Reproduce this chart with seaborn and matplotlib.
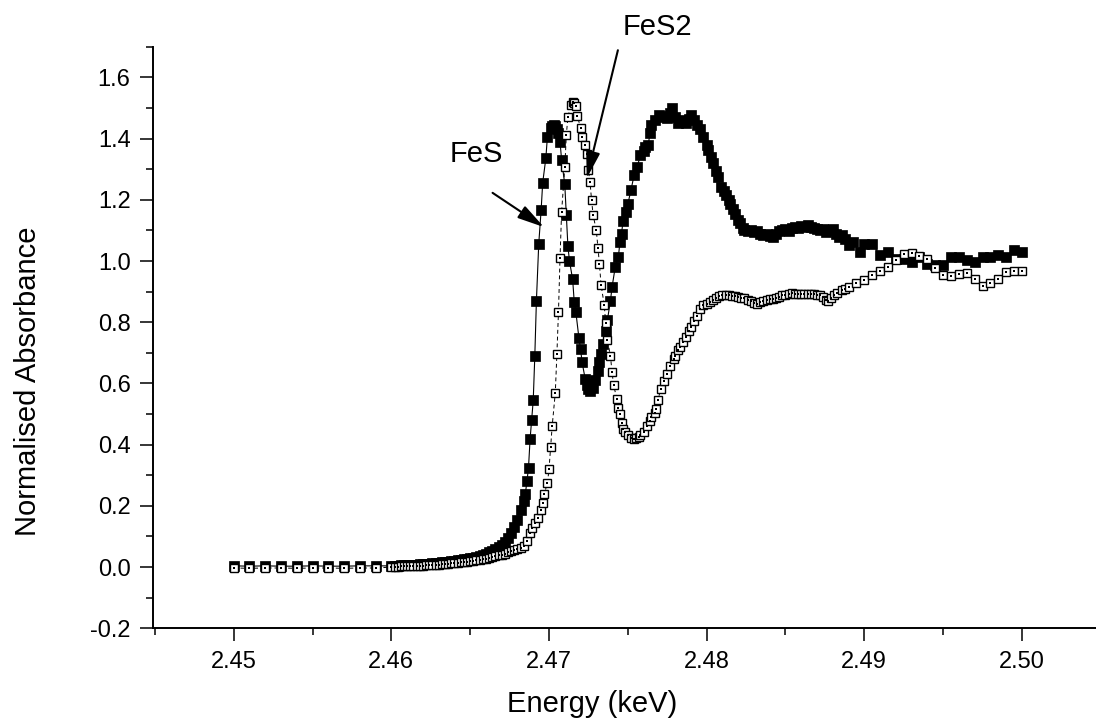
import matplotlib
matplotlib.use('Agg')
import matplotlib.pyplot as plt
from matplotlib.ticker import MultipleLocator, FormatStrFormatter
import pandas as pd
import seaborn as sns

# FeS (filled squares, solid line)
fes_energy = [
    2.450, 2.451, 2.452, 2.453, 2.454, 2.455, 2.456, 2.457, 2.458, 2.459,
    2.4600, 2.4602, 2.4604, 2.4606, 2.4608, 2.4610, 2.4612, 2.4614, 2.4616, 2.4618,
    2.4620, 2.4622, 2.4624, 2.4626, 2.4628, 2.4630, 2.4632, 2.4634, 2.4636, 2.4638,
    2.4640, 2.4642, 2.4644, 2.4646, 2.4648, 2.4650, 2.4652, 2.4654, 2.4656, 2.4658,
    2.4660, 2.4662, 2.4664, 2.4666, 2.4668, 2.4670, 2.4672, 2.4674, 2.4676, 2.4678,
    2.4680, 2.4682, 2.4684,
    2.4685, 2.4686, 2.4687, 2.4688, 2.4689, 2.4690, 2.4691, 2.4692, 2.46935, 2.4695,
    2.4696, 2.4698, 2.4699, 2.4701, 2.4702, 2.4703, 2.4704, 2.4705, 2.4706, 2.4707,
    2.4708, 2.4710, 2.4711, 2.4712, 2.4713, 2.4715, 2.4716, 2.4717, 2.4719, 2.4720,
    2.4721, 2.4723, 2.4724, 2.4725, 2.4726, 2.4727, 2.4728, 2.4729, 2.4731, 2.4732,
    2.4733, 2.4734, 2.4736, 2.4737, 2.4739, 2.4740, 2.4742, 2.4744, 2.4745, 2.4746,
    2.4747, 2.4749, 2.4750, 2.4752, 2.4754, 2.4756, 2.4758, 2.4760, 2.4761, 2.4763,
    2.4764, 2.4765, 2.4767, 2.4770, 2.4772, 2.4774, 2.4775, 2.4777, 2.4778, 2.4780,
    2.4782, 2.4784, 2.4787, 2.4789, 2.4790, 2.4792, 2.4794, 2.4796, 2.4798, 2.4800,
    2.4801, 2.4803, 2.4804, 2.4806, 2.4807, 2.4809, 2.4811, 2.4812, 2.4814, 2.4815,
    2.4817, 2.4818, 2.4820, 2.4821, 2.4823, 2.4824, 2.4826, 2.4828, 2.4830, 2.4832,
    2.4834, 2.4836, 2.4838, 2.4840, 2.4842, 2.4844, 2.4846, 2.4848, 2.4850, 2.4852,
    2.4854, 2.4856, 2.4858, 2.4860, 2.4862, 2.4864, 2.4866, 2.4868, 2.4870, 2.4872,
    2.4874, 2.4876, 2.4878, 2.4880, 2.4882, 2.4884, 2.4886, 2.4888, 2.4890, 2.4893,
    2.4897, 2.4900, 2.4905, 2.4910, 2.4915, 2.4920, 2.4925, 2.4930, 2.4935, 2.4940,
    2.4945, 2.4950, 2.4955, 2.4960, 2.4965, 2.4970, 2.4975, 2.4980, 2.4985, 2.4990,
    2.4995, 2.5000,
]
fes_abs = [
    0.004, 0.003, 0.004, 0.003, 0.003, 0.004, 0.003, 0.003, 0.004, 0.004,
    0.004, 0.005, 0.005, 0.006, 0.006, 0.007, 0.007, 0.008, 0.008, 0.009,
    0.010, 0.010, 0.011, 0.012, 0.013, 0.014, 0.015, 0.016, 0.017, 0.019,
    0.020, 0.022, 0.023, 0.025, 0.027, 0.029, 0.031, 0.034, 0.037, 0.040,
    0.044, 0.048, 0.053, 0.058, 0.065, 0.073, 0.083, 0.096, 0.112, 0.132,
    0.155, 0.185, 0.215,
    0.240, 0.280, 0.325, 0.418, 0.480, 0.545, 0.690, 0.868, 1.057, 1.166,
    1.256, 1.336, 1.407, 1.435, 1.440, 1.445, 1.442, 1.430, 1.418, 1.390,
    1.330, 1.251, 1.152, 1.048, 1.000, 0.940, 0.867, 0.835, 0.748, 0.713,
    0.669, 0.614, 0.595, 0.582, 0.575, 0.598, 0.585, 0.610, 0.642, 0.670,
    0.696, 0.729, 0.773, 0.806, 0.871, 0.915, 0.980, 1.013, 1.062, 1.090,
    1.131, 1.160, 1.186, 1.232, 1.281, 1.308, 1.347, 1.360, 1.374, 1.380,
    1.418, 1.445, 1.460, 1.478, 1.470, 1.475, 1.467, 1.485, 1.500, 1.470,
    1.450, 1.460, 1.450, 1.465, 1.478, 1.460, 1.445, 1.430, 1.407, 1.380,
    1.363, 1.340, 1.319, 1.295, 1.275, 1.243, 1.228, 1.215, 1.200, 1.188,
    1.170, 1.155, 1.135, 1.123, 1.108, 1.100, 1.098, 1.102, 1.095, 1.097,
    1.090, 1.085, 1.090, 1.083, 1.079, 1.090, 1.097, 1.100, 1.105, 1.097,
    1.108, 1.112, 1.108, 1.115, 1.112, 1.117, 1.110, 1.108, 1.106, 1.100,
    1.104, 1.095, 1.100, 1.106, 1.090, 1.079, 1.085, 1.073, 1.052, 1.062,
    1.030, 1.057, 1.057, 1.019, 1.030, 1.008, 1.008, 0.997, 1.013, 0.991,
    0.986, 0.986, 1.013, 1.013, 1.002, 0.997, 1.013, 1.013, 1.019, 1.013,
    1.035, 1.030,
]

# FeS2 (open squares, dashed line)
fes2_energy = [
    2.450, 2.451, 2.452, 2.453, 2.454, 2.455, 2.456, 2.457, 2.458, 2.459,
    2.4600, 2.4602, 2.4604, 2.4606, 2.4608, 2.4610, 2.4612, 2.4614, 2.4616, 2.4618,
    2.4620, 2.4622, 2.4624, 2.4626, 2.4628, 2.4630, 2.4632, 2.4634, 2.4636, 2.4638,
    2.4640, 2.4642, 2.4644, 2.4646, 2.4648, 2.4650, 2.4652, 2.4654, 2.4656, 2.4658,
    2.4660, 2.4662, 2.4664, 2.4666, 2.4668, 2.4670, 2.4672, 2.4674, 2.4676, 2.4678,
    2.4680, 2.4682, 2.4684,
    2.4686, 2.4688, 2.4689, 2.4691, 2.4693, 2.4695, 2.4696, 2.4697, 2.4699, 2.4700,
    2.4701, 2.4702, 2.4704, 2.4705, 2.4706, 2.4707, 2.4708, 2.4710, 2.4711, 2.4712,
    2.4714, 2.4715, 2.4716, 2.4717, 2.4718, 2.4720, 2.4721, 2.4723, 2.4724, 2.4725,
    2.4726, 2.4727, 2.4728, 2.4730, 2.4731, 2.4732, 2.4733, 2.4735, 2.4736, 2.4737,
    2.4739, 2.4740, 2.4741, 2.4743, 2.4744, 2.4745, 2.4746, 2.4747, 2.4748, 2.4750,
    2.4752, 2.4754, 2.4755, 2.4757, 2.4758, 2.4760, 2.4762, 2.4764, 2.4765, 2.4767,
    2.4768, 2.4769, 2.4771, 2.4773, 2.4775, 2.4777, 2.4779, 2.4780, 2.4782, 2.4783,
    2.4785, 2.4787, 2.4789, 2.4790, 2.4792, 2.4794, 2.4796, 2.4798, 2.4800, 2.4802,
    2.4804, 2.4806, 2.4808, 2.4810, 2.4812, 2.4814, 2.4816, 2.4818, 2.4820, 2.4822,
    2.4824, 2.4826, 2.4828, 2.4830, 2.4832, 2.4834, 2.4836, 2.4838, 2.4840, 2.4842,
    2.4844, 2.4846, 2.4848, 2.4850, 2.4852, 2.4854, 2.4856, 2.4858, 2.4860, 2.4862,
    2.4864, 2.4866, 2.4868, 2.4870, 2.4872, 2.4874, 2.4876, 2.4877, 2.4879, 2.4881,
    2.4883, 2.4886, 2.4888, 2.4890, 2.4895, 2.4900, 2.4905, 2.4910, 2.4915, 2.4920,
    2.4925, 2.4930, 2.4935, 2.4940, 2.4945, 2.4950, 2.4955, 2.4960, 2.4965, 2.4970,
    2.4975, 2.4980, 2.4985, 2.4990, 2.4995, 2.5000,
]
fes2_abs = [
    -0.003, -0.004, -0.003, -0.003, -0.004, -0.003, -0.003, -0.004, -0.003, -0.003,
    0.000, 0.001, 0.001, 0.002, 0.002, 0.003, 0.003, 0.004, 0.004, 0.005,
    0.005, 0.006, 0.006, 0.007, 0.008, 0.008, 0.009, 0.010, 0.011, 0.012,
    0.013, 0.014, 0.015, 0.016, 0.017, 0.019, 0.020, 0.022, 0.024, 0.026,
    0.028, 0.030, 0.032, 0.035, 0.038, 0.041, 0.044, 0.048, 0.052, 0.056,
    0.059, 0.062, 0.070,
    0.085, 0.110, 0.128, 0.145, 0.161, 0.188, 0.210, 0.239, 0.275, 0.319,
    0.392, 0.460, 0.570, 0.696, 0.832, 1.011, 1.161, 1.306, 1.412, 1.472,
    1.510, 1.521, 1.515, 1.507, 1.474, 1.436, 1.407, 1.379, 1.350, 1.297,
    1.260, 1.199, 1.150, 1.101, 1.044, 0.991, 0.923, 0.858, 0.797, 0.743,
    0.689, 0.636, 0.595, 0.550, 0.520, 0.500, 0.472, 0.450, 0.440, 0.431,
    0.421, 0.420, 0.421, 0.425, 0.431, 0.443, 0.461, 0.478, 0.489, 0.505,
    0.516, 0.546, 0.582, 0.609, 0.632, 0.658, 0.680, 0.691, 0.708, 0.718,
    0.735, 0.751, 0.770, 0.784, 0.805, 0.822, 0.845, 0.855, 0.860, 0.866,
    0.874, 0.880, 0.886, 0.888, 0.890, 0.888, 0.887, 0.886, 0.884, 0.880,
    0.878, 0.874, 0.868, 0.862, 0.860, 0.866, 0.871, 0.872, 0.875, 0.877,
    0.880, 0.884, 0.888, 0.890, 0.892, 0.895, 0.894, 0.893, 0.893, 0.893,
    0.892, 0.891, 0.891, 0.890, 0.888, 0.882, 0.872, 0.871, 0.878, 0.888,
    0.896, 0.904, 0.910, 0.915, 0.928, 0.939, 0.953, 0.969, 0.980, 1.005,
    1.022, 1.026, 1.016, 1.008, 0.978, 0.953, 0.951, 0.959, 0.962, 0.940,
    0.920, 0.928, 0.942, 0.964, 0.966, 0.967,
]

x_ticks = [2.45, 2.46, 2.47, 2.48, 2.49, 2.50]
y_ticks = [-0.2, 0.0, 0.2, 0.4, 0.6, 0.8, 1.0, 1.2, 1.4, 1.6]

sns.set_style('ticks')
plt.rcParams['font.family'] = ['Liberation Sans', 'DejaVu Sans']
plt.rcParams['axes.unicode_minus'] = False
plt.rcParams['text.color'] = 'black'
plt.rcParams['axes.labelcolor'] = 'black'

fes = pd.DataFrame({'energy': fes_energy, 'absorbance': fes_abs})
fes2 = pd.DataFrame({'energy': fes2_energy, 'absorbance': fes2_abs})

fig = plt.figure(figsize=(10.96, 7.22), dpi=100)
ax = fig.add_axes([0.1399, 0.1298, 0.8601, 0.8055])

sns.lineplot(data=fes, x='energy', y='absorbance', ax=ax, sort=False,
             estimator=None, color='black', linewidth=0.8, marker='s',
             markersize=6.8, markerfacecolor='black', markeredgecolor='black',
             markeredgewidth=0.5, zorder=2)
sns.lineplot(data=fes2, x='energy', y='absorbance', ax=ax, sort=False,
             estimator=None, color='black', linewidth=0.7, linestyle=(0, (4, 3)),
             marker='s', markersize=6.0, markerfacecolor='white',
             markeredgecolor='black', markeredgewidth=1.0, zorder=3)
# centre dots of the open squares
sns.scatterplot(data=fes2, x='energy', y='absorbance', ax=ax, marker='s',
                s=1.8, color='black', linewidth=0, zorder=4)

ax.set_xlim(2.4449, 2.5047)
ax.set_ylim(-0.2, 1.7005)
ax.set_xticks(x_ticks)
ax.set_yticks(y_ticks)
ax.xaxis.set_minor_locator(MultipleLocator(0.005))
ax.yaxis.set_minor_locator(MultipleLocator(0.1))
ax.xaxis.set_major_formatter(FormatStrFormatter('%.2f'))
ax.yaxis.set_major_formatter(FormatStrFormatter('%.1f'))
ax.tick_params(which='major', direction='out', length=9.4, width=1.1,
               labelsize=17, pad=7, colors='black')
ax.tick_params(which='minor', direction='out', length=5, width=1.1, colors='black')
for side in ['top', 'right']:
    ax.spines[side].set_visible(False)
for side in ['left', 'bottom']:
    ax.spines[side].set_linewidth(1.4)
    ax.spines[side].set_color('black')

ax.set_xlabel('Energy (keV)', fontsize=21, va='baseline')
ax.xaxis.set_label_coords(0.4654, -0.1439)
ax.set_ylabel('Normalised Absorbance', fontsize=21, va='baseline')
ax.yaxis.set_label_coords(-0.1244, 0.425)

arrow = dict(arrowstyle='-|>,head_length=0.65,head_width=0.17', color='black',
             lw=1.5, mutation_scale=25, shrinkA=0, shrinkB=0)
ax.annotate('', xy=(2.46968, 1.111), xytext=(2.46642, 1.223), arrowprops=arrow)
ax.annotate('', xy=(2.47239, 1.270), xytext=(2.47437, 1.689), arrowprops=arrow,
            annotation_clip=False)
ax.text(2.46542, 1.3246, 'FeS', fontsize=21, ha='center', va='baseline')
ax.text(2.47691, 1.740, 'FeS2', fontsize=21, ha='center', va='baseline',
        clip_on=False)

fig.savefig('out.png', dpi=100)
